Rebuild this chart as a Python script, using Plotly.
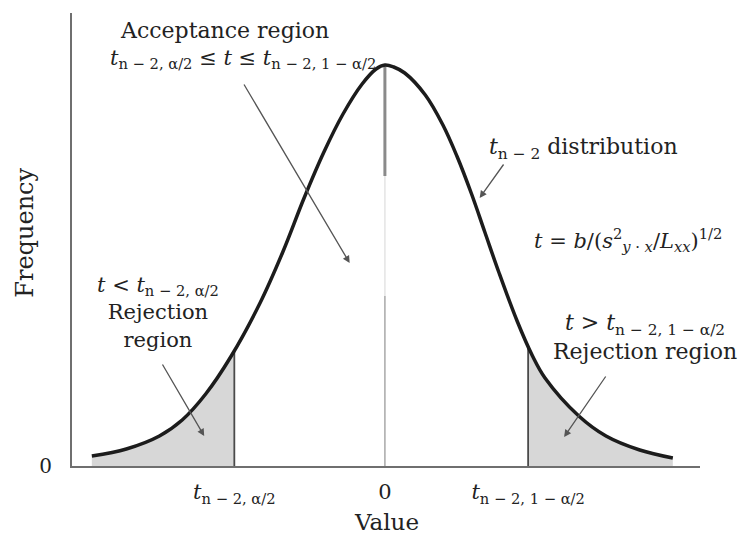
import numpy as np
import plotly.graph_objects as go

# Sampled t_{n-2} density curve (value, relative frequency)
value_t = [-3.99, -3.52, -3.07, -2.76, -2.44, -2.10, -1.70, -1.39, -1.10, -0.83,
           -0.57, -0.31, -0.12, 0.00, 0.12, 0.27, 0.55, 0.79, 0.98, 1.18,
           1.36, 1.55, 1.80, 2.01, 2.18, 2.64, 3.01, 3.47, 3.92]
frequency = [0.010, 0.017, 0.030, 0.046, 0.072, 0.109, 0.163, 0.214, 0.268, 0.314,
             0.352, 0.382, 0.397, 0.401, 0.399, 0.393, 0.371, 0.341, 0.310, 0.272,
             0.234, 0.194, 0.145, 0.110, 0.088, 0.050, 0.030, 0.016, 0.008]

# Critical values t_{n-2, a/2} and t_{n-2, 1-a/2}
t_crit_low = -2.05
t_crit_high = 1.95

tick_values = [t_crit_low, 0, t_crit_high]
tick_labels = ["<i>t</i><sub>n − 2, α/2</sub>", "0", "<i>t</i><sub>n − 2, 1 − α/2</sub>"]

t = np.array(value_t)
f = np.array(frequency)
f_low = float(np.interp(t_crit_low, t, f))
f_high = float(np.interp(t_crit_high, t, f))
f_peak = float(np.interp(0.0, t, f))

FONT = "DejaVu Serif"
INK = "#222222"
SHADE = "#d7d7d7"

fig = go.Figure()

# Left rejection region
m = t <= t_crit_low
fig.add_trace(go.Scatter(
    x=np.concatenate([[t[0]], t[m], [t_crit_low, t_crit_low]]),
    y=np.concatenate([[0], f[m], [f_low, 0]]),
    fill="toself", fillcolor=SHADE, line=dict(width=0), mode="lines",
    hoverinfo="skip", showlegend=False))

# Right rejection region
m = t >= t_crit_high
fig.add_trace(go.Scatter(
    x=np.concatenate([[t_crit_high, t_crit_high], t[m], [t[-1]]]),
    y=np.concatenate([[0, f_high], f[m], [0]]),
    fill="toself", fillcolor=SHADE, line=dict(width=0), mode="lines",
    hoverinfo="skip", showlegend=False))

# Critical value boundaries
for tc, fc in [(t_crit_low, f_low), (t_crit_high, f_high)]:
    fig.add_trace(go.Scatter(x=[tc, tc], y=[0, fc], mode="lines",
                             line=dict(color="#4a4a4a", width=1.8),
                             hoverinfo="skip", showlegend=False))

# Centre line at t = 0 (darker near the peak, fading lower down)
fig.add_trace(go.Scatter(x=[0, 0], y=[f_peak, 0.29], mode="lines",
                         line=dict(color="#8a8a8a", width=3),
                         hoverinfo="skip", showlegend=False))
fig.add_trace(go.Scatter(x=[0, 0], y=[0.29, 0.17], mode="lines",
                         line=dict(color="#e4e4e4", width=1.5),
                         hoverinfo="skip", showlegend=False))
fig.add_trace(go.Scatter(x=[0, 0], y=[0.17, 0], mode="lines",
                         line=dict(color="#a8a8a8", width=1.5),
                         hoverinfo="skip", showlegend=False))

# Density curve
fig.add_trace(go.Scatter(x=t, y=f, mode="lines",
                         line=dict(color="#1c1c1c", width=3.5, shape="spline", smoothing=1.0),
                         hoverinfo="skip", showlegend=False))

def label(x, y, text, size=22, **kw):
    return dict(x=x, y=y, xref="x", yref="y", text=text, showarrow=False,
                font=dict(family=FONT, size=size, color=INK), **kw)

def arrow(x_tail, y_tail, x_tip, y_tip):
    return dict(x=x_tip, y=y_tip, ax=x_tail, ay=y_tail, xref="x", yref="y",
                axref="x", ayref="y", text="", showarrow=True,
                arrowhead=2, arrowsize=1.1, arrowwidth=1.3, arrowcolor="#555555")

annotations = [
    label(-2.19, 0.436, "Acceptance region", size=22),
    label(-1.93, 0.407, "<i>t</i><sub>n − 2, α/2</sub> ≤ <i>t</i> ≤ <i>t</i><sub>n − 2, 1 − α/2</sub>", size=21),
    label(2.70, 0.318, "<i>t</i><sub>n − 2</sub> distribution", size=22),
    label(3.31, 0.226, "<i>t</i> = <i>b</i>/(<i>s</i><sup>2</sup><sub><i>y</i> · <i>x</i></sub>/<i>L</i><sub><i>xx</i></sub>)<sup>1/2</sup>", size=21),
    label(-3.09, 0.154, "<i>t</i> < <i>t</i><sub>n − 2, α/2</sub><br>Rejection<br>region", size=21),
    label(3.54, 0.129, "<i>t</i> > <i>t</i><sub>n − 2, 1 − α/2</sub><br>Rejection region", size=22),
    dict(x=-47 / 628, y=0.515, xref="paper", yref="paper", xanchor="center", yanchor="middle",
         text="Frequency", textangle=-90,
         showarrow=False, font=dict(family=FONT, size=24, color=INK)),
    dict(x=0.5, y=-56 / 453, xref="paper", yref="paper", xanchor="center", yanchor="middle",
         text="Value", showarrow=False, font=dict(family=FONT, size=23, color=INK)),
    arrow(-1.93, 0.383, -0.48, 0.203),
    arrow(1.63, 0.303, 1.29, 0.268),
    arrow(-3.04, 0.103, -2.46, 0.030),
    arrow(3.02, 0.091, 2.44, 0.029),
]

fig.update_layout(
    width=742, height=535,
    margin=dict(l=72, r=42, t=13, b=69),
    paper_bgcolor="white", plot_bgcolor="white",
    annotations=annotations,
    xaxis=dict(range=[-4.26, 4.29], showgrid=False, zeroline=False,
               showline=True, linecolor="#6f6f6f", linewidth=2,
               tickvals=tick_values, ticktext=tick_labels,
               ticks="outside", ticklen=6, tickcolor="rgba(0,0,0,0)",
               tickfont=dict(family=FONT, size=21, color=INK)),
    yaxis=dict(range=[0, 0.453], showgrid=False, zeroline=False,
               showline=True, linecolor="#6f6f6f", linewidth=2,
               tickvals=[0], ticktext=["0"],
               ticks="outside", ticklen=14, tickcolor="rgba(0,0,0,0)",
               tickfont=dict(family=FONT, size=20, color=INK)),
)

fig.write_html("out.html")
